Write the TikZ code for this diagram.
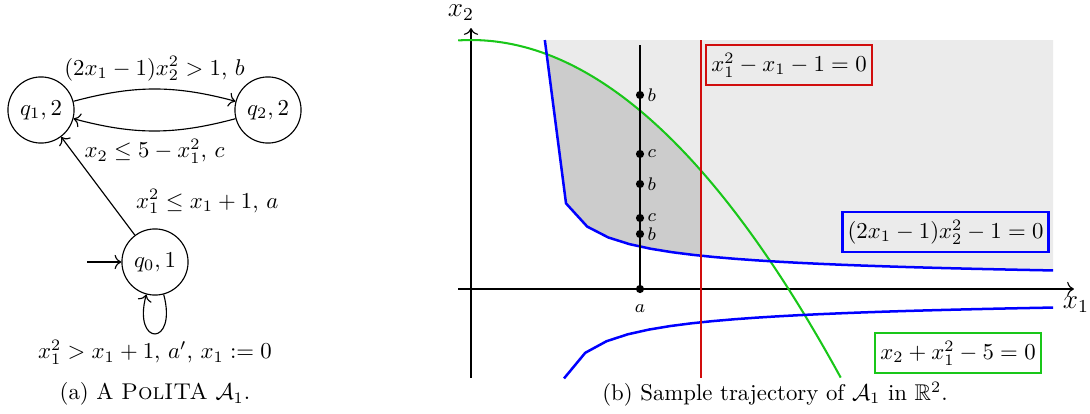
\documentclass[tikz,border=0pt]{standalone}
\usepackage{amsmath,amssymb}
\usetikzlibrary{arrows.meta}
\definecolor{cred}{rgb}{0.82,0.05,0.05}
\definecolor{cgreen}{rgb}{0.1,0.78,0.1}
\definecolor{cblue}{rgb}{0,0,1}
\begin{document}
\begin{tikzpicture}[x=0.4386pt,y=0.4386pt,line width=0.5pt,>={To[scale=1.1]},
  state/.style={circle,draw,minimum size=29pt,inner sep=0pt},
  eqbox/.style={draw,line width=0.9pt,inner xsep=2.2pt,inner ysep=3.5pt},
  dot/.style={circle,fill,inner sep=0pt,minimum size=3.6pt},
  dotlab/.style={font=\footnotesize,inner sep=1pt},
  traj/.style={line width=1.1pt},
  curve/.style={line width=0.9pt},
  bcurve/.style={line width=1.1pt,cblue}]
\useasboundingbox (0,0) rectangle (1090,-414);

% ---------- automaton ----------
\node[state] (q1) at (41,-110) {$q_1,2$};
\node[state] (q2) at (268,-110) {$q_2,2$};
\node[state] (q0) at (155,-262) {$q_0,1$};
\coordinate (init) at (87,-262);
\draw[->] (q1) to[bend left=15] node[above] {$(2x_1-1)x_2^2>1$, $b$} (q2);
\draw[->] (q2) to[bend left=15] node[below] {$x_2\le 5-x_1^2$, $c$} (q1);
\draw[->] (q0) -- node[pos=0.34,right=8pt] {$x_1^2\le x_1+1$, $a$} (q1);
\draw[->] (init) -- (q0);
\path (q0) edge[->,loop,out=-75,in=-105,looseness=8] node[below,inner sep=2.5pt] {$x_1^2>x_1+1$, $a'$, $x_1:=0$} (q0);
\node (capa) at (155,-394) {(a) A \textsc{PolITA} $\mathcal{A}_1$.};

% ---------- plot ----------
\begin{scope}[shift={(471,-289)},x=62.28pt,y=21.84pt]
  \fill[black!8] plot[domain=0.52:4.1,samples=25] (\x,{1/sqrt(2*\x-1)}) -- (4.1,5) -- cycle;
  \begin{scope}
    \clip plot[domain=0.3:1.618,samples=30] (\x,{5-\x*\x}) -- (1.618,0) -- (0.3,0) -- cycle;
    \fill[black!20] plot[domain=0.52:4.1,samples=25] (\x,{1/sqrt(2*\x-1)}) -- (4.1,5) -- cycle;
  \end{scope}
  \draw[->] (-0.09,0) -- (4.246,0);
  \draw[->] (0,-1.78) -- (0,5.24);
  \draw[cgreen,curve] plot[domain=-0.09:2.604,samples=60,smooth] (\x,{5-\x*\x});
  \draw[bcurve] plot[domain=0.52:4.1,samples=25] (\x,{1/sqrt(2*\x-1)});
  \draw[bcurve] plot[domain=0.655:4.1,samples=24] (\x,{-1/sqrt(2*\x-1)});
  \draw[cred,curve] (1.618,5) -- (1.618,-1.78);
\end{scope}

\node[inner sep=1pt] (x1lab) at (1076,-305) {\large $x_1$};
\node[inner sep=1pt] (x2lab) at (461,-12.5) {\large $x_2$};

% trajectory
\coordinate (o) at (471,-289);
\coordinate (ptop) at (640,-45);
\node[dot,label={[dotlab,inner sep=4.5pt]below:$a$}] (pa) at (640,-289) {};
\draw[traj] (o) -- (pa.center) -- (ptop);
\node[dot,label={[dotlab]right:$b$}] (p1) at (640,-95) {};
\node[dot,label={[dotlab]right:$c$}] (p2) at (640,-154) {};
\node[dot,label={[dotlab]right:$b$}] (p3) at (640,-184) {};
\node[dot,label={[dotlab]right:$c$}] (p4) at (640,-218) {};
\node[dot,label={[dotlab]right:$b$}] (p5) at (640,-234) {};

% equation boxes
\node[eqbox,draw=cred] (eqr) at (789,-65) {$x_1^2-x_1-1=0$};
\node[eqbox,draw=cblue] (eqb) at (945.5,-232) {$(2x_1-1)x_2^2-1=0$};
\node[eqbox,draw=cgreen] (eqg) at (958,-353) {$x_2+x_1^2-5=0$};

\node (capb) at (775,-394) {(b) Sample trajectory of $\mathcal{A}_1$ in $\mathbb{R}^2$.};
\end{tikzpicture}
\end{document}
